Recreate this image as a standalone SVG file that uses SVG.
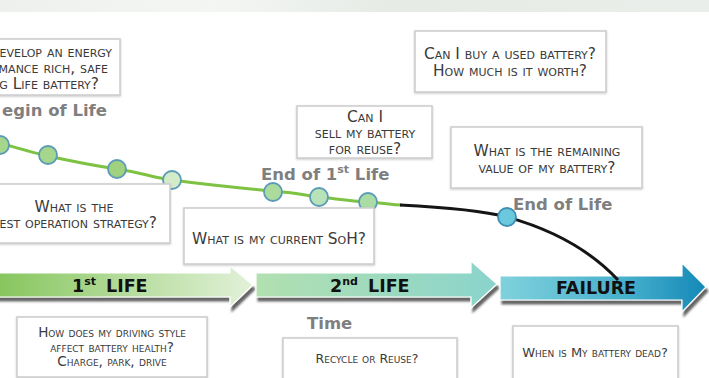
<svg xmlns="http://www.w3.org/2000/svg" width="709" height="378" viewBox="0 0 709 378">
<defs>
<linearGradient id="gTop" x1="0" y1="0" x2="1" y2="0">
<stop offset="0" stop-color="#eef0ee"/><stop offset="0.3" stop-color="#f4f6f4"/><stop offset="0.55" stop-color="#e6ebe6"/><stop offset="1" stop-color="#eaeeea"/>
</linearGradient>
<linearGradient id="g1" x1="0" y1="0" x2="1" y2="0">
<stop offset="0" stop-color="#86c55c"/><stop offset="0.7" stop-color="#c6e4b4"/><stop offset="1" stop-color="#e2f1d8"/>
</linearGradient>
<linearGradient id="g2" x1="0" y1="0" x2="1" y2="0">
<stop offset="0" stop-color="#b2e0b0"/><stop offset="1" stop-color="#8ad4cc"/>
</linearGradient>
<linearGradient id="g3" x1="0" y1="0" x2="1" y2="0">
<stop offset="0" stop-color="#80d2dc"/><stop offset="0.6" stop-color="#48b0cc"/><stop offset="1" stop-color="#1489b8"/>
</linearGradient>
<filter id="arrowShadow" x="-5%" y="-30%" width="110%" height="170%">
<feDropShadow dx="2" dy="4" stdDeviation="1.3" flood-color="#222" flood-opacity="0.7"/>
</filter>
<filter id="boxShadow" x="-5%" y="-10%" width="110%" height="125%">
<feDropShadow dx="0" dy="1" stdDeviation="1" flood-color="#999" flood-opacity="0.5"/>
</filter>
</defs>
<style>
.box{fill:#fff;stroke:#cfcfcf;stroke-width:1.6;filter:url(#boxShadow)}
.q{font-family:"DejaVu Sans",Verdana,sans-serif;font-variant:small-caps;fill:#3a3a3a;font-size:15.4px}
.qd{font-size:13.5px}
.qr{font-size:12.5px}
.qe{font-size:13px}
.head{font-family:"DejaVu Sans",Verdana,sans-serif;font-weight:bold;fill:#7f7f7f;font-size:16.5px}
.lab{font-family:"DejaVu Sans",Verdana,sans-serif;font-weight:bold;fill:#111;font-size:17.5px}
.sup{font-size:11px}
.arrow{stroke:#fff;stroke-width:1.2;filter:url(#arrowShadow)}
.dot{stroke:#5b9bb8;stroke-width:1.8}
</style>
<rect x="0" y="0" width="709" height="12" fill="url(#gTop)"/>

<g id="arrows">
<g id="arrow-1st-life">
<path class="arrow" d="M-5,273 H230 V266 L253,285 L230,307 V297 H-5 Z" fill="url(#g1)"/>
<text class="lab" x="72" y="292">1<tspan class="sup" dy="-7">st</tspan><tspan dy="7" x="106">LIFE</tspan></text>
</g>
<g id="arrow-2nd-life">
<path class="arrow" d="M256,273 H471 V261 L497,284 L471,308 V297 H256 Z" fill="url(#g2)"/>
<text class="lab" x="330" y="292">2<tspan class="sup" dy="-7">nd</tspan><tspan dy="7" x="368">LIFE</tspan></text>
</g>
<g id="arrow-failure">
<path class="arrow" d="M500,276 H682 V263 L706,287 L682,312 V300 H500 Z" fill="url(#g3)"/>
<text class="lab" x="596" y="294" text-anchor="middle">FAILURE</text>
</g>
</g>

<g id="connectors">
<path d="M-10,140 C10,146 30,152 48,156 S90,165 117,169 S150,177 172,180 S240,188 273,191 S300,195 319,197 S350,201 368,202 S390,205 402,205" fill="none" stroke="#7dc242" stroke-width="3"/>
<path d="M400,205 C440,207 480,210 507,217 C550,229 590,250 618,280" fill="none" stroke="#151515" stroke-width="3"/>
</g>

<g id="points">
<circle class="dot" cx="0" cy="145" r="9" fill="#a6d68c"/>
<circle class="dot" cx="48" cy="155" r="9" fill="#a6d68c"/>
<circle class="dot" cx="117" cy="169" r="9" fill="#9fd17e"/>
<circle class="dot" cx="172" cy="180" r="9" fill="#d2ecc8"/>
<circle class="dot" cx="273" cy="192" r="9" fill="#acdb9e"/>
<circle class="dot" cx="319" cy="197" r="9" fill="#b8e2b8"/>
<circle class="dot" cx="368" cy="202" r="9" fill="#aadca4"/>
<circle cx="507" cy="217" r="9" fill="#6cc8dc" stroke="#3d8fb4" stroke-width="1.8"/>
</g>

<g id="label-begin"><text class="head" x="107" y="116" text-anchor="end">egin of Life</text></g>
<g id="label-end1"><text class="head" x="261" y="180">End of 1<tspan class="sup" dy="-7">st</tspan><tspan dy="7"> Life</tspan></text></g>
<g id="label-eol"><text class="head" x="513" y="210">End of Life</text></g>
<g id="label-time"><text class="head" x="307" y="329">Time</text></g>

<g id="box-develop">
<rect class="box" x="-10" y="39" width="130" height="56"/>
<text class="q" x="112" y="57" text-anchor="end">evelop an energy</text>
<text class="q" x="108" y="73" text-anchor="end">mance rich, safe</text>
<text class="q" x="99" y="89" text-anchor="end">g Life battery?</text>
</g>

<g id="box-strategy">
<rect class="box" x="-20" y="184" width="190" height="59"/>
<text class="q" x="74" y="212" text-anchor="middle">What is the</text>
<text class="q" x="157" y="228" text-anchor="end">est operation strategy?</text>
</g>

<g id="box-soh">
<rect class="box" x="184" y="208" width="190" height="56"/>
<text class="q" x="279" y="244" text-anchor="middle">What is my current SoH?</text>
</g>

<g id="box-sell">
<rect class="box" x="297" y="106" width="135" height="52"/>
<text class="q" x="365" y="122" text-anchor="middle">Can I</text>
<text class="q" x="365" y="138" text-anchor="middle">sell my battery</text>
<text class="q" x="365" y="154" text-anchor="middle">for reuse?</text>
</g>

<g id="box-buy">
<rect class="box" x="415" y="31" width="191" height="61"/>
<text class="q" x="510" y="59" text-anchor="middle">Can I buy a used battery?</text>
<text class="q" x="510" y="76" text-anchor="middle">How much is it worth?</text>
</g>

<g id="box-remaining">
<rect class="box" x="451" y="127" width="191" height="61"/>
<text class="q" x="547" y="156" text-anchor="middle">What is the remaining</text>
<text class="q" x="547" y="173" text-anchor="middle">value of my battery?</text>
</g>

<g id="box-driving">
<rect class="box" x="17" y="317" width="190" height="60"/>
<text class="q qd" x="112" y="337" text-anchor="middle">How does my driving style</text>
<text class="q qd" x="112" y="352" text-anchor="middle">affect battery health?</text>
<text class="q qd" x="112" y="366" text-anchor="middle">Charge, park, drive</text>
</g>

<g id="box-recycle">
<rect class="box" x="283" y="338" width="174" height="50"/>
<text class="q qr" x="367" y="363" text-anchor="middle">Recycle or Reuse?</text>
</g>

<g id="box-dead">
<rect class="box" x="513" y="326" width="165" height="60"/>
<text class="q qe" x="595" y="357" text-anchor="middle">When is My battery dead?</text>
</g>
</svg>
